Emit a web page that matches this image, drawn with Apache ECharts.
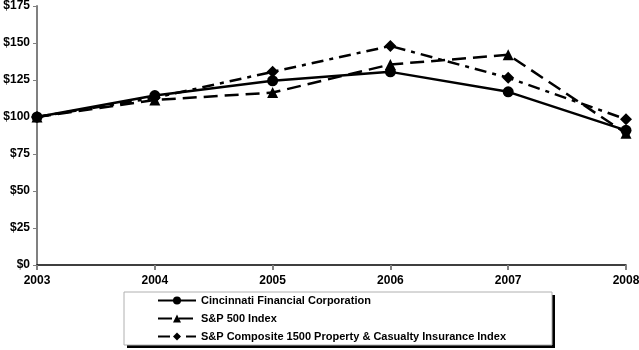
<!DOCTYPE html>
<html>
<head>
<meta charset="utf-8">
<script src="https://cdn.jsdelivr.net/npm/echarts@6/dist/echarts.min.js"></script>
<style>
  html, body { margin: 0; padding: 0; background: #fff; }
  #chart { width: 639px; height: 350px; }
</style>
</head>
<body>
<div id="chart"></div>
<script>
var years = ['2003', '2004', '2005', '2006', '2007', '2008'];
var cincinnati = [100, 114.5, 124.5, 130.5, 117, 91];
var sp500 = [100, 111.5, 116.5, 135.5, 142, 89];
var spComposite = [100, 113, 130.5, 148, 126.5, 98.5];
var seriesNames = [
  'Cincinnati Financial Corporation',
  'S&P 500 Index',
  'S&P Composite 1500 Property & Casualty Insurance Index'
];

var font = 'Liberation Sans, Arial, sans-serif';

function makeSeries(name, data, symbol, size, lineType) {
  return {
    name: name,
    type: 'line',
    data: data,
    symbol: symbol,
    symbolSize: size,
    showAllSymbol: true,
    z: 3,
    itemStyle: { color: '#000' },
    lineStyle: { color: '#000', width: 2.5, type: lineType }
  };
}

var chart = echarts.init(document.getElementById('chart'));
chart.setOption({
  animation: false,
  backgroundColor: '#fff',
  grid: { left: 37, right: 13, top: 6, bottom: 85, outerBoundsMode: 'none', containLabel: false },
  // legend box with a hard drop shadow
  graphic: [
    { type: 'rect', z: 0, shape: { x: 127, y: 295, width: 428, height: 53 }, style: { fill: '#000' } },
    { type: 'rect', z: 1, shape: { x: 124, y: 292, width: 428, height: 53 }, style: { fill: '#fff', stroke: '#b0b0b0', lineWidth: 1 } }
  ],
  legend: {
    orient: 'vertical',
    left: 157,
    top: 295,
    z: 10,
    itemWidth: 38,
    itemHeight: 10,
    itemGap: 7,
    padding: 0,
    textStyle: { fontFamily: font, fontWeight: 'bold', fontSize: 11, color: '#000' },
    data: seriesNames
  },
  xAxis: {
    type: 'category',
    data: years,
    boundaryGap: false,
    axisLine: { lineStyle: { color: '#000', width: 1.5 } },
    axisTick: { show: true, alignWithLabel: true, length: 5, lineStyle: { color: '#808080', width: 2 } },
    axisLabel: { fontFamily: font, fontWeight: 'bold', fontSize: 12, color: '#000', margin: 10 },
    splitLine: { show: false }
  },
  yAxis: {
    type: 'value',
    min: 0,
    max: 175,
    interval: 25,
    axisLine: { show: true, lineStyle: { color: '#808080', width: 2 } },
    axisTick: { show: true, length: 4, lineStyle: { color: '#808080' } },
    axisLabel: {
      fontFamily: font, fontWeight: 'bold', fontSize: 12, color: '#000', margin: 7,
      formatter: function (v) { return '$' + v; }
    },
    splitLine: { show: false }
  },
  series: [
    makeSeries(seriesNames[0], cincinnati, 'circle', 11, 'solid'),
    makeSeries(seriesNames[1], sp500, 'triangle', 11, [14, 7]),
    makeSeries(seriesNames[2], spComposite, 'diamond', 12, [12, 6, 4, 6])
  ]
});
</script>
</body>
</html>
